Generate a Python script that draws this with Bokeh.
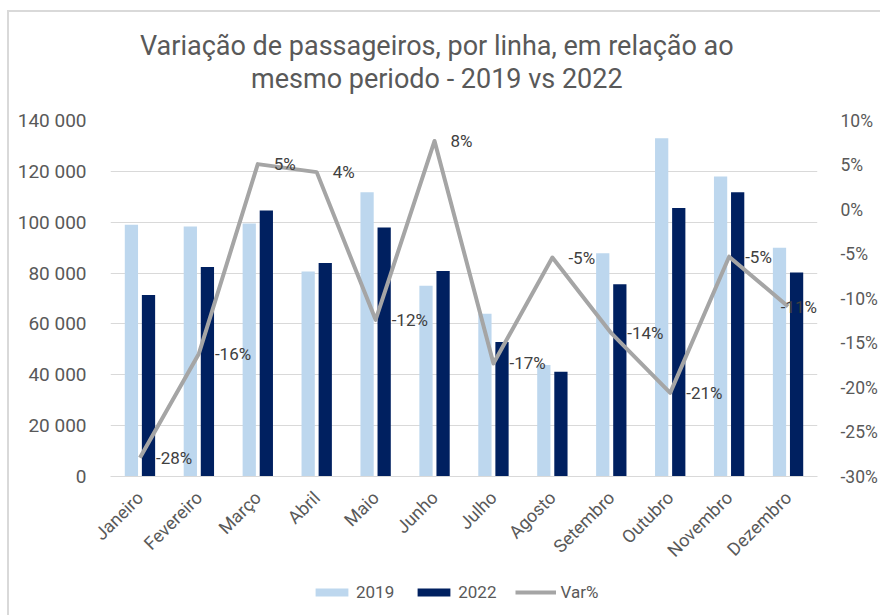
import math
from bokeh.plotting import figure
from bokeh.layouts import column
from bokeh.models import (FactorRange, Range1d, LinearAxis, ColumnDataSource, Legend,
                          LegendItem, CustomJSTickFormatter, FixedTicker)
from bokeh.transform import dodge
from bokeh.embed import file_html
from bokeh.resources import INLINE
from bokeh.core.properties import value

# ---- data ----
months = ["Janeiro", "Fevereiro", "Março", "Abril", "Maio", "Junho",
          "Julho", "Agosto", "Setembro", "Outubro", "Novembro", "Dezembro"]
pass_2019 = [99000, 98300, 99500, 80600, 111800, 75000, 64000, 43800, 87800, 133000, 118000, 90000]
pass_2022 = [71400, 82400, 104600, 84000, 97900, 80800, 52900, 41200, 75600, 105600, 111800, 80200]
var_pct = [-27.9, -16.2, 5.1, 4.2, -12.4, 7.7, -17.3, -5.4, -13.9, -20.6, -5.3, -10.9]
left_ticks = [0, 20000, 40000, 60000, 80000, 100000, 120000, 140000]
right_ticks = [-30, -25, -20, -15, -10, -5, 0, 5, 10]
series_names = ["2019", "2022", "Var%"]
title_lines = ["Variação de passageiros, por linha, em relação ao",
               "mesmo periodo - 2019 vs 2022"]

FONT = "Roboto"
C2019 = "#BDD7EE"
C2022 = "#002060"
CLINE = "#A5A5A5"
TXT = "#595959"
W = 871
BL, BR = 101, 55          # left / right borders of the plot area
PAGE_X0 = 9               # page x of the figures' left edge
FX0 = PAGE_X0 + BL        # page x of the (aligned) plot area's left edge
FX1 = PAGE_X0 + W - BR    # page x of its right edge

labels = [f"{round(v):.0f}%" for v in var_pct]
# last label would leave the plot area: keep it inside, right-aligned
offsets = [16] * (len(months) - 1) + [29]
aligns = ["left"] * (len(months) - 1) + ["right"]

src = ColumnDataSource(dict(month=months, v2019=pass_2019, v2022=pass_2022, var=var_pct,
                            lab=labels, xoff=offsets, align=aligns))

def bare(fig):
    fig.outline_line_color = None
    fig.xgrid.grid_line_color = None
    fig.ygrid.grid_line_color = None
    return fig

def strip(h, yr):
    return bare(figure(x_range=Range1d(FX0, FX1), y_range=yr, width=W, height=h,
                       x_axis_type=None, y_axis_type=None, output_backend="svg",
                       toolbar_location=None, min_border_left=BL, min_border_right=BR,
                       min_border_top=0, min_border_bottom=0))

# ---- title figure ----
TH = 95
tf = strip(TH, Range1d(TH, 0))
tf.text(x=[440, 440], y=[33, 66], text=title_lines, text_align="center",
        text_baseline="alphabetic", text_font=value(FONT), text_font_size="27px",
        text_color=TXT)

# ---- main figure ----
p = figure(x_range=FactorRange(factors=months), y_range=Range1d(0, 140000),
           width=W, height=473, output_backend="svg", toolbar_location=None,
           min_border_left=BL, min_border_right=BR, min_border_top=13,
           min_border_bottom=104)
p.outline_line_color = None
p.extra_y_ranges = {"pct": Range1d(-30, 10)}

r1 = p.vbar(x=dodge("month", -0.145, range=p.x_range), top="v2019", width=0.225,
            source=src, fill_color=C2019, line_color=None)
r2 = p.vbar(x=dodge("month", 0.145, range=p.x_range), top="v2022", width=0.225,
            source=src, fill_color=C2022, line_color=None)
r3 = p.line(x="month", y="var", source=src, y_range_name="pct",
            line_color=CLINE, line_width=4, line_join="round")
p.text(x="month", y="var", text="lab", source=src, y_range_name="pct",
       x_offset="xoff", text_align="align", text_baseline="middle",
       text_font=value(FONT), text_font_size="17px", text_color="#404040")

p.yaxis[0].ticker = FixedTicker(ticks=left_ticks)
p.yaxis[0].formatter = CustomJSTickFormatter(
    code="return Math.round(tick).toString().replace(/\\B(?=(\\d{3})+(?!\\d))/g, ' ');")
raxis = LinearAxis(y_range_name="pct", ticker=FixedTicker(ticks=right_ticks),
                   formatter=CustomJSTickFormatter(code="return tick + '%';"))
p.add_layout(raxis, "right")

for ax, fs, so in [(p.yaxis[0], "19px", 18), (raxis, "17.5px", 17)]:
    ax.axis_line_color = None
    ax.major_tick_line_color = None
    ax.minor_tick_line_color = None
    ax.major_label_text_color = TXT
    ax.major_label_text_font = FONT
    ax.major_label_text_font_size = fs
    ax.major_label_standoff = so

xa = p.xaxis[0]
xa.axis_line_color = "#D9D9D9"
xa.axis_line_width = 1
xa.major_tick_line_color = None
xa.minor_tick_line_color = None
xa.major_label_orientation = math.pi / 4
xa.major_label_text_color = TXT
xa.major_label_text_font = FONT
xa.major_label_text_font_size = "18px"
xa.major_label_standoff = 12

p.xgrid.grid_line_color = None
p.ygrid.ticker = FixedTicker(ticks=left_ticks)
p.ygrid.grid_line_color = "#D9D9D9"
p.ygrid.grid_line_width = 1

# ---- legend figure ----
LH = 35
lf = strip(LH, Range1d(0, LH))
nan = float("nan")
swatch = ColumnDataSource(dict(x=[nan], y=[nan]))
l1 = lf.vbar(x="x", top="y", width=1, source=swatch, fill_color=C2019, line_color=None)
l2 = lf.vbar(x="x", top="y", width=1, source=swatch, fill_color=C2022, line_color=None)
l3 = lf.line(x="x", y="y", source=swatch, line_color=CLINE, line_width=4)
legend = Legend(items=[LegendItem(label=series_names[0], renderers=[l1]),
                       LegendItem(label=series_names[1], renderers=[l2]),
                       LegendItem(label=series_names[2], renderers=[l3])],
                orientation="horizontal", location=(311 - FX0, 13),
                glyph_width=41, glyph_height=10, label_standoff=4, spacing=19,
                padding=0, margin=0, border_line_color=None,
                background_fill_alpha=0, label_text_font=FONT,
                label_text_font_size="17px", label_text_color=TXT)
lf.add_layout(legend)

layout = column(tf, p, lf, spacing=0,
                styles={"margin-left": "7px", "margin-top": "10px",
                        "border-left": "2px solid #D9D9D9",
                        "border-top": "2px solid #D9D9D9"})

open("out.html", "w").write(file_html(layout, INLINE))
